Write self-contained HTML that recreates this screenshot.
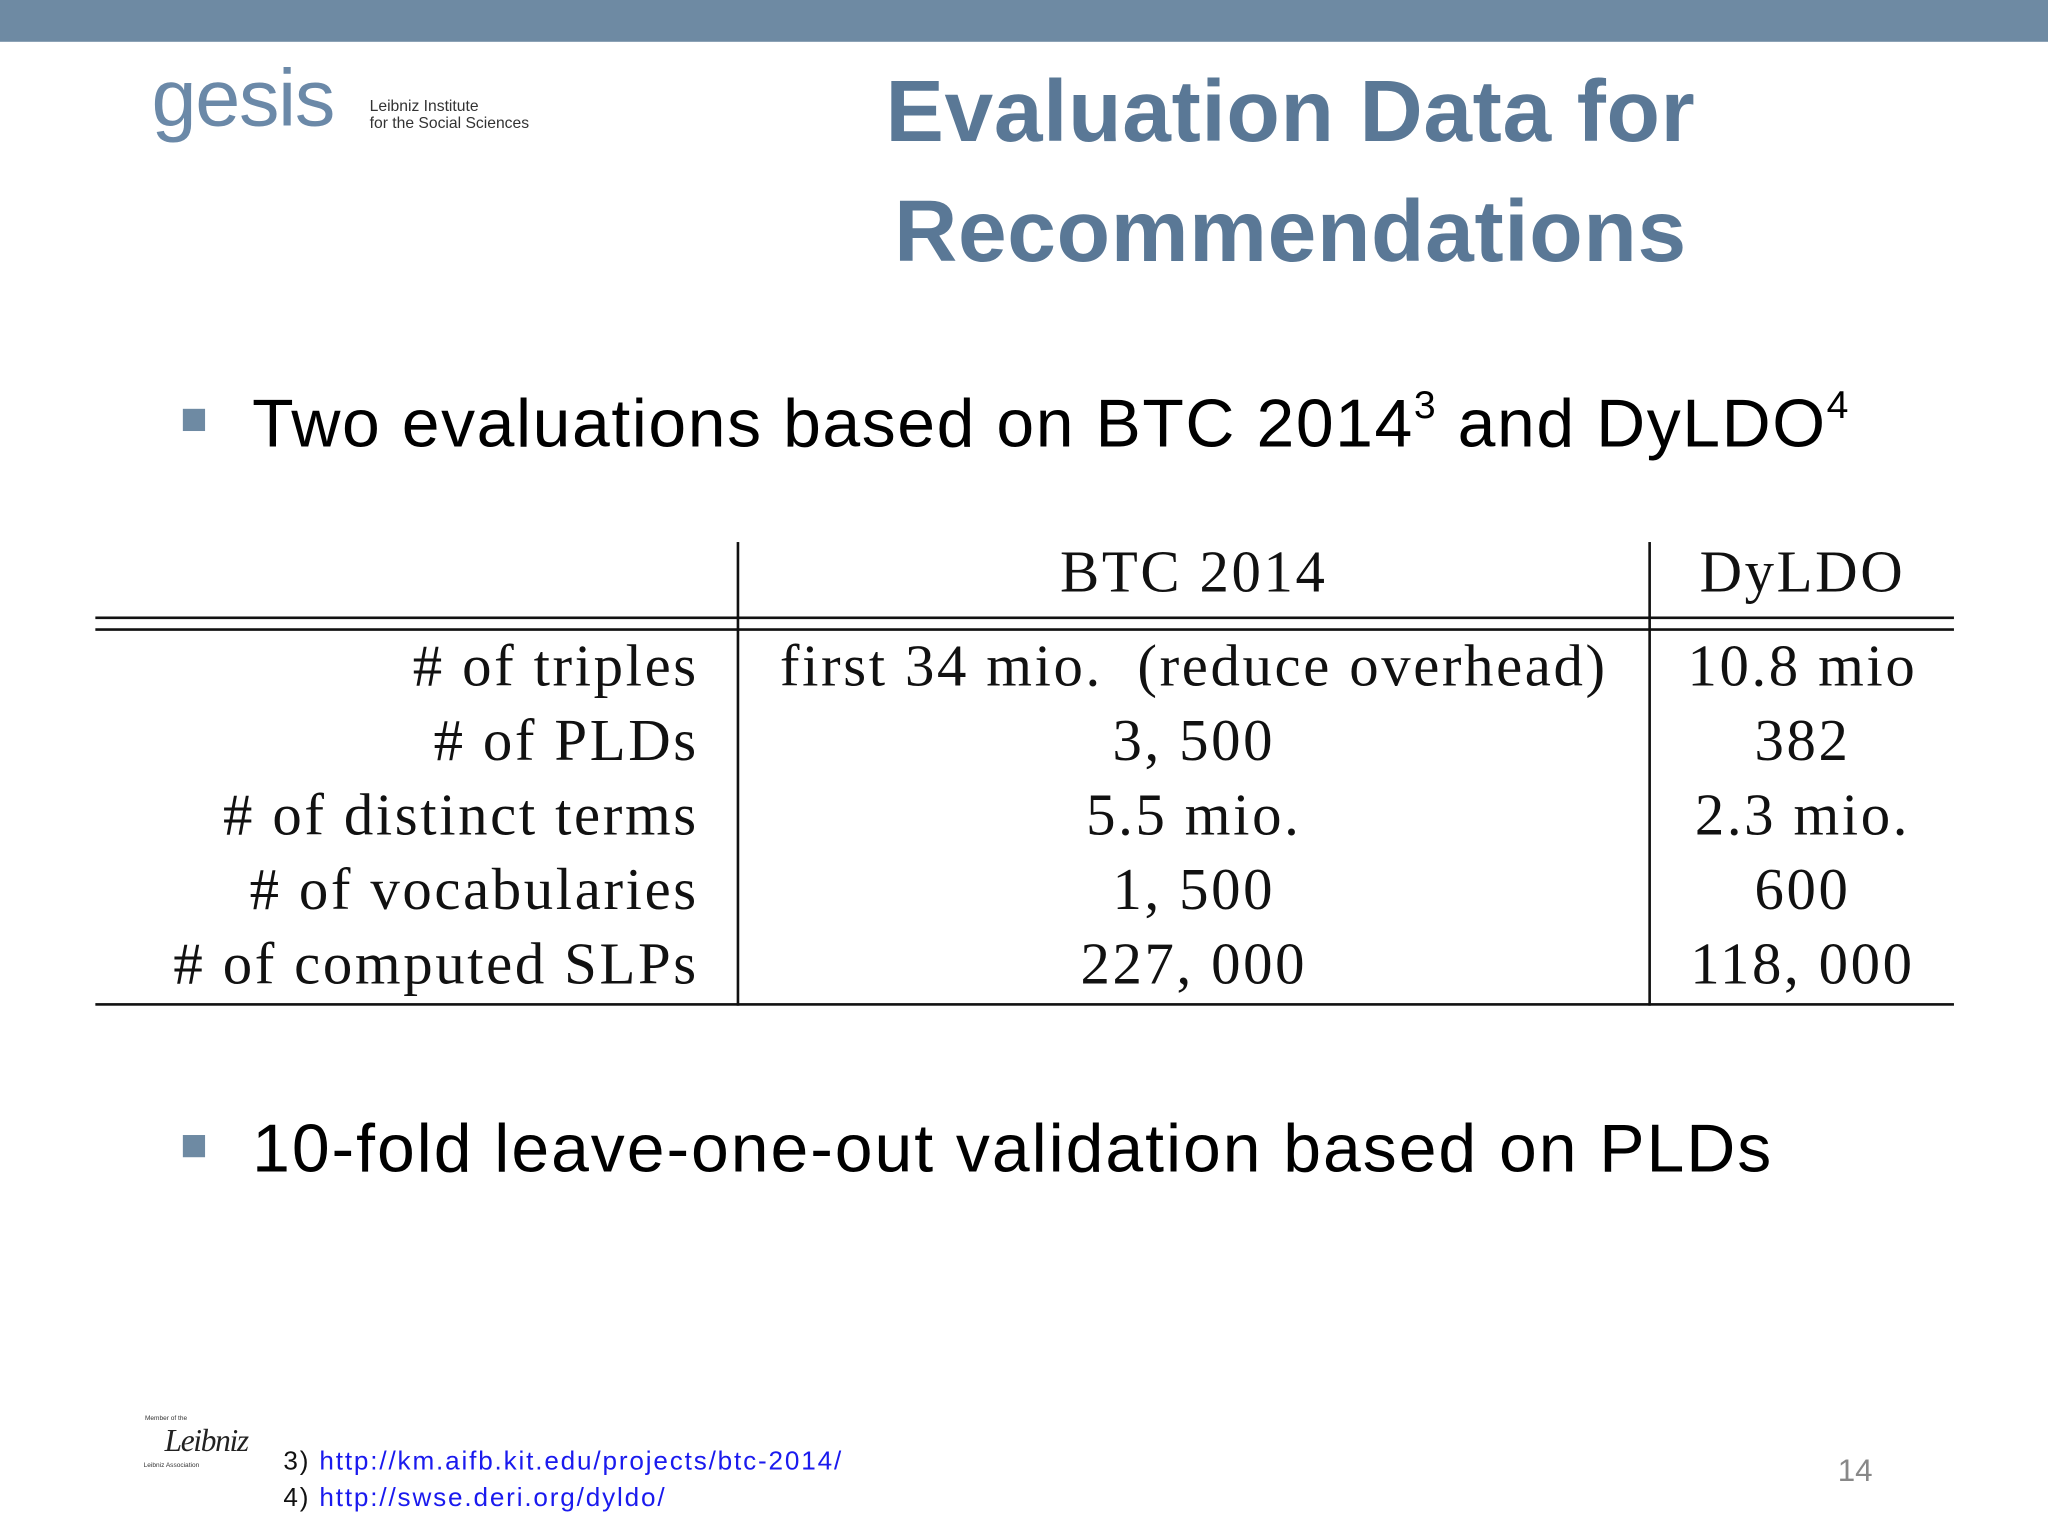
<!DOCTYPE html>
<html><head><meta charset="utf-8"><style>
html,body{margin:0;padding:0;background:#fff;overflow:hidden;width:2048px;height:1536px}
#s{position:absolute;left:0;top:0;width:1568px;height:1176px;transform:scale(1.30612);transform-origin:0 0;background:#fff;font-family:"Liberation Sans",sans-serif}
.a{position:absolute;white-space:nowrap}
.ser{font-family:"Liberation Serif",serif;font-size:45px;color:#111;letter-spacing:2px}
.r{text-align:right}
.c{text-align:center}
.ln{position:absolute;background:#111}
a{color:#1a1aee}
</style></head><body>
<div id="s">
<div class="a" style="left:0;top:0;width:1568px;height:32px;background:#6e8aa3"></div>
<div class="a" style="left:116px;top:40px;font-size:62px;color:#6b89a8;letter-spacing:-1px">gesis</div>
<div class="a" style="left:283px;top:75px;font-size:12px;line-height:13px;color:#333">Leibniz Institute<br>for the Social Sciences</div>
<div class="a c" style="left:588px;top:40px;width:800px;font-size:67px;font-weight:bold;line-height:92px;color:#5a7896;letter-spacing:0.5px">Evaluation Data for<br>Recommendations</div>
<div class="a" style="left:140px;top:313px;width:17px;height:17px;background:#6e8aa3"></div>
<div class="a" style="left:193px;top:294px;font-size:52px;color:#000;letter-spacing:1.2px">Two evaluations based on BTC 2014<sup style="font-size:30px;vertical-align:22px">3</sup> and DyLDO<sup style="font-size:30px;vertical-align:22px">4</sup></div>
<div>
<div class="ln" style="left:564px;top:415px;width:2px;height:355px"></div>
<div class="ln" style="left:1262px;top:415px;width:2px;height:355px"></div>
<div class="ln" style="left:73px;top:472px;width:1423px;height:2px"></div>
<div class="ln" style="left:73px;top:481px;width:1423px;height:2px"></div>
<div class="ln" style="left:73px;top:768px;width:1423px;height:2px"></div>
<div class="a ser c" style="left:564px;top:412px;width:700px">BTC 2014</div>
<div class="a ser c" style="left:1264px;top:412px;width:232px">DyLDO</div>
<div class="a ser r" style="left:73px;top:482px;width:462px;line-height:57px"># of triples<br># of PLDs<br># of distinct terms<br># of vocabularies<br># of computed SLPs</div>
<div class="a ser c" style="left:564px;top:482px;width:700px;line-height:57px">first 34 mio.&nbsp; (reduce overhead)<br>3, 500<br>5.5 mio.<br>1, 500<br>227, 000</div>
<div class="a ser c" style="left:1264px;top:482px;width:232px;line-height:57px">10.8 mio<br>382<br>2.3 mio.<br>600<br>118, 000</div>
</div>
<div class="a" style="left:140px;top:869px;width:17px;height:17px;background:#6e8aa3"></div>
<div class="a" style="left:193px;top:850px;font-size:52px;color:#000;letter-spacing:1.5px">10-fold leave-one-out validation based on PLDs</div>
<div class="a" style="left:108px;top:1083px;width:84px;height:55px">
<div class="a" style="left:3px;top:0;font-size:5px;color:#333">Member of the</div>
<div class="a" style="left:18px;top:8px;font-family:'Liberation Serif',serif;font-style:italic;font-size:24px;color:#222;letter-spacing:-1px">Leibniz</div>
<div class="a" style="left:2px;top:36px;font-size:5px;color:#333">Leibniz Association</div>
</div>
<div class="a" style="left:217px;top:1105px;font-size:20px;line-height:28px;color:#111;letter-spacing:1.4px">3) <a>http://km.aifb.kit.edu/projects/btc-2014/</a><br>4) <a>http://swse.deri.org/dyldo/</a></div>
<div class="a" style="left:1407px;top:1113px;font-size:24px;color:#888">14</div>
</div>
</body></html>
